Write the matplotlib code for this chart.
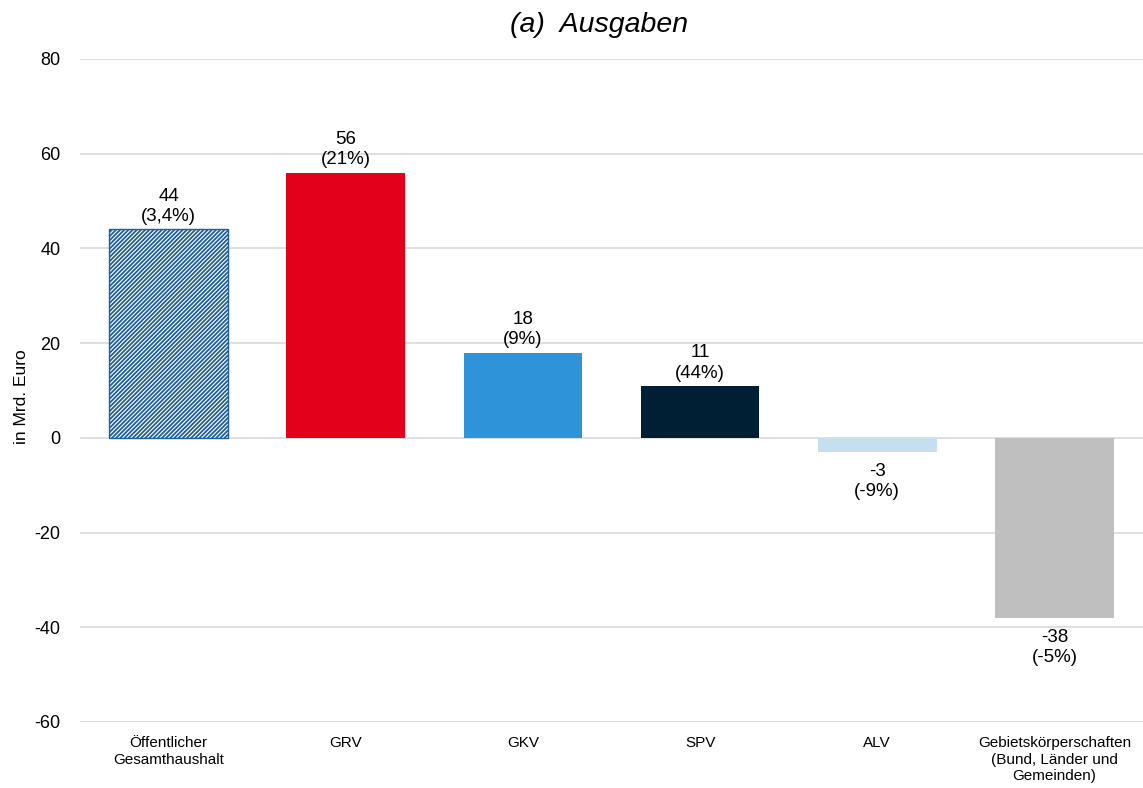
import matplotlib.pyplot as plt
import numpy as np

plt.rcParams['font.family'] = ['Liberation Sans', 'DejaVu Sans']
plt.rcParams['axes.unicode_minus'] = False
plt.rcParams['hatch.linewidth'] = 1.3

categories = ['Öffentlicher\nGesamthaushalt', 'GRV', 'GKV', 'SPV', 'ALV',
              'Gebietskörperschaften\n(Bund, Länder und\nGemeinden)']
values = [44, 56, 18, 11, -3, -38]
pct_labels = ['3,4%', '21%', '9%', '44%', '-9%', '-5%']
colors = ['white', '#e2001a', '#2e93d9', '#001f35', '#c6dff0', '#bfbfbf']

fig = plt.figure(figsize=(11.43, 7.88), dpi=100)
ax = fig.add_axes([0.07, 0.0838, 0.93, 0.8414])

x = np.arange(len(categories))
bars = ax.bar(x, values, width=0.67, color=colors, zorder=3)
# hatched first bar
bars[0].set_hatch('////////')
bars[0].set_edgecolor('#1f5f9a')
bars[0].set_linewidth(1.0)

for b, v, p in zip(bars, values, pct_labels):
    txt = f'{v}\n({p})'
    if v >= 0:
        ax.annotate(txt, (b.get_x() + b.get_width() / 2, v), xytext=(0, 3),
                    textcoords='offset points', ha='center', va='bottom',
                    fontsize=13.5, linespacing=1.25)
    else:
        ax.annotate(txt, (b.get_x() + b.get_width() / 2, v), xytext=(0, -8),
                    textcoords='offset points', ha='center', va='top',
                    fontsize=13.5, linespacing=1.25)

ax.set_xlim(-0.5, len(categories) - 0.5)
ax.set_ylim(-60, 80)
ax.set_yticks(range(-60, 81, 20))
ax.set_xticks(x)
ax.set_xticklabels(categories, fontsize=11, linespacing=1.25)
ax.tick_params(axis='y', labelsize=13, length=0, pad=14)
ax.tick_params(axis='x', length=0, pad=10)
ax.grid(axis='y', color='#d9d9d9', linewidth=1.2, zorder=0)
for s in ax.spines.values():
    s.set_visible(False)

ax.set_ylabel('in Mrd. Euro', fontsize=12.5)
ax.yaxis.set_label_coords(-0.048, 0.49)
fig.text(599 / 1143, 1 - 25 / 788, '(a)  Ausgaben', fontsize=20.5, style='italic',
         ha='center', va='center')

fig.savefig('out.png', dpi=100)
